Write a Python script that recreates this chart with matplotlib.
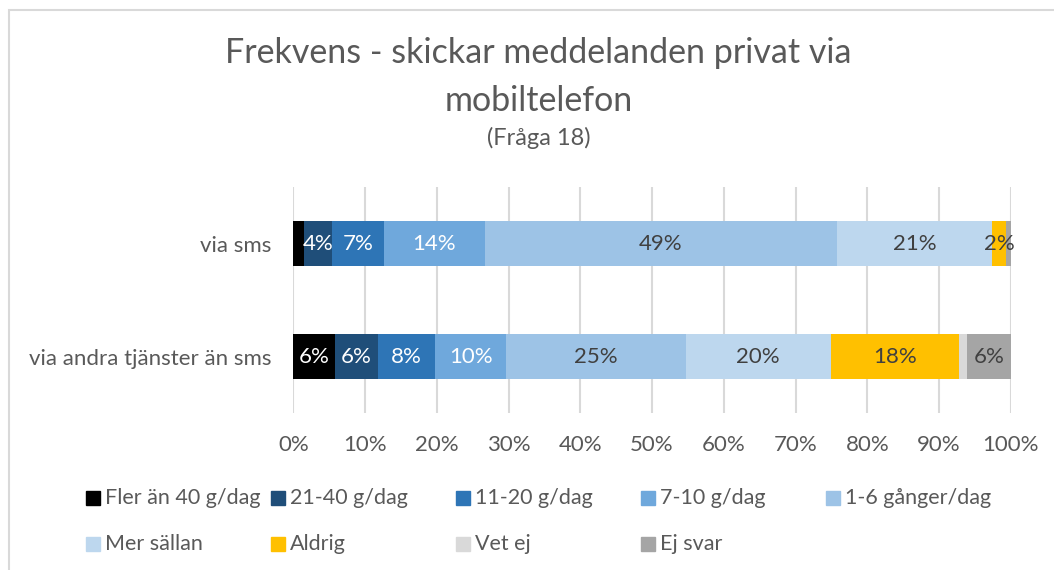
import numpy as np
import matplotlib.pyplot as plt
from matplotlib.patches import Rectangle

plt.rcParams['font.family'] = ['Lato', 'DejaVu Sans']

# data (percent)
categories = ["via andra tjänster än sms", "via sms"]
series = ["Fler än 40 g/dag", "21-40 g/dag", "11-20 g/dag", "7-10 g/dag",
          "1-6 gånger/dag", "Mer sällan", "Aldrig", "Vet ej", "Ej svar"]
andra = [5.8, 6.0, 8.0, 9.9, 25.0, 20.2, 17.9, 1.1, 6.1]
sms = [1.5, 3.9, 7.2, 14.1, 49.1, 21.6, 1.9, 0.0, 0.7]
labels_andra = ["6%", "6%", "8%", "10%", "25%", "20%", "18%", "", "6%"]
labels_sms = ["", "4%", "7%", "14%", "49%", "21%", "2%", "", ""]

colors = ["#000000", "#1F4E79", "#2E75B6", "#6FA8DC", "#9DC3E6",
          "#BDD7EE", "#FFC000", "#D9D9D9", "#A5A5A5"]
txtcol = ["white", "white", "white", "white", "#404040",
          "#404040", "#404040", "#404040", "#404040"]
grey = "#595959"
W, H = 1054, 570

fig = plt.figure(figsize=(W / 100, H / 100), dpi=100)
ax = fig.add_axes([0.2783, 0.2754, 0.6807, 0.3965])

vals = np.array([andra, sms])
labs = [labels_andra, labels_sms]
y = np.arange(len(categories))
left = np.zeros(len(categories))
for i, s in enumerate(series):
    bars = ax.barh(y, vals[:, i], left=left, height=0.4, color=colors[i],
                   label=s, zorder=3)
    for j, b in enumerate(bars):
        t = labs[j][i]
        if t:
            ax.text(left[j] + vals[j, i] / 2, y[j], t, ha="center", va="center",
                    color=txtcol[i], fontsize=16, zorder=4)
    left += vals[:, i]

ax.set_xlim(0, 100)
ax.set_ylim(-0.5, 1.5)
ax.set_xticks(np.arange(0, 101, 10))
ax.set_xticklabels(["{}%".format(v) for v in range(0, 101, 10)])
ax.set_yticks(y)
ax.set_yticklabels(categories)
ax.tick_params(length=0, labelsize=16, labelcolor=grey)
ax.tick_params(axis="x", pad=16)
ax.tick_params(axis="y", pad=16)
ax.grid(axis="x", color="#D9D9D9", lw=1.5, zorder=0)
for sp in ax.spines.values():
    sp.set_visible(False)

fig.text(0.511, 1 - 53 / H, "Frekvens - skickar meddelanden privat via", ha="center",
         va="center", fontsize=24.5, color=grey)
fig.text(0.511, 1 - 101 / H, "mobiltelefon", ha="center", va="center",
         fontsize=24.5, color=grey)
fig.text(0.511, 1 - 138 / H, "(Fråga 18)", ha="center", va="center",
         fontsize=17, color=grey)

# chart frame
fig.patches.append(Rectangle((8.5 / W, -0.1), 1.2, 1 - 9.5 / H + 0.1,
                             transform=fig.transFigure, fill=False,
                             edgecolor="#D9D9D9", lw=1.5))

# legend, Excel style: fixed column width, filled row by row
for k, s in enumerate(series):
    row, col = divmod(k, 5)
    x0 = 86 + 185 * col
    yc = 498 + 46 * row
    fig.patches.append(Rectangle((x0 / W, 1 - (yc + 7) / H), 14 / W, 14 / H,
                                 transform=fig.transFigure, color=colors[k]))
    fig.text((x0 + 19) / W, 1 - yc / H, s, ha="left", va="center",
             fontsize=15.5, color=grey)

fig.savefig("out.png", dpi=100)
